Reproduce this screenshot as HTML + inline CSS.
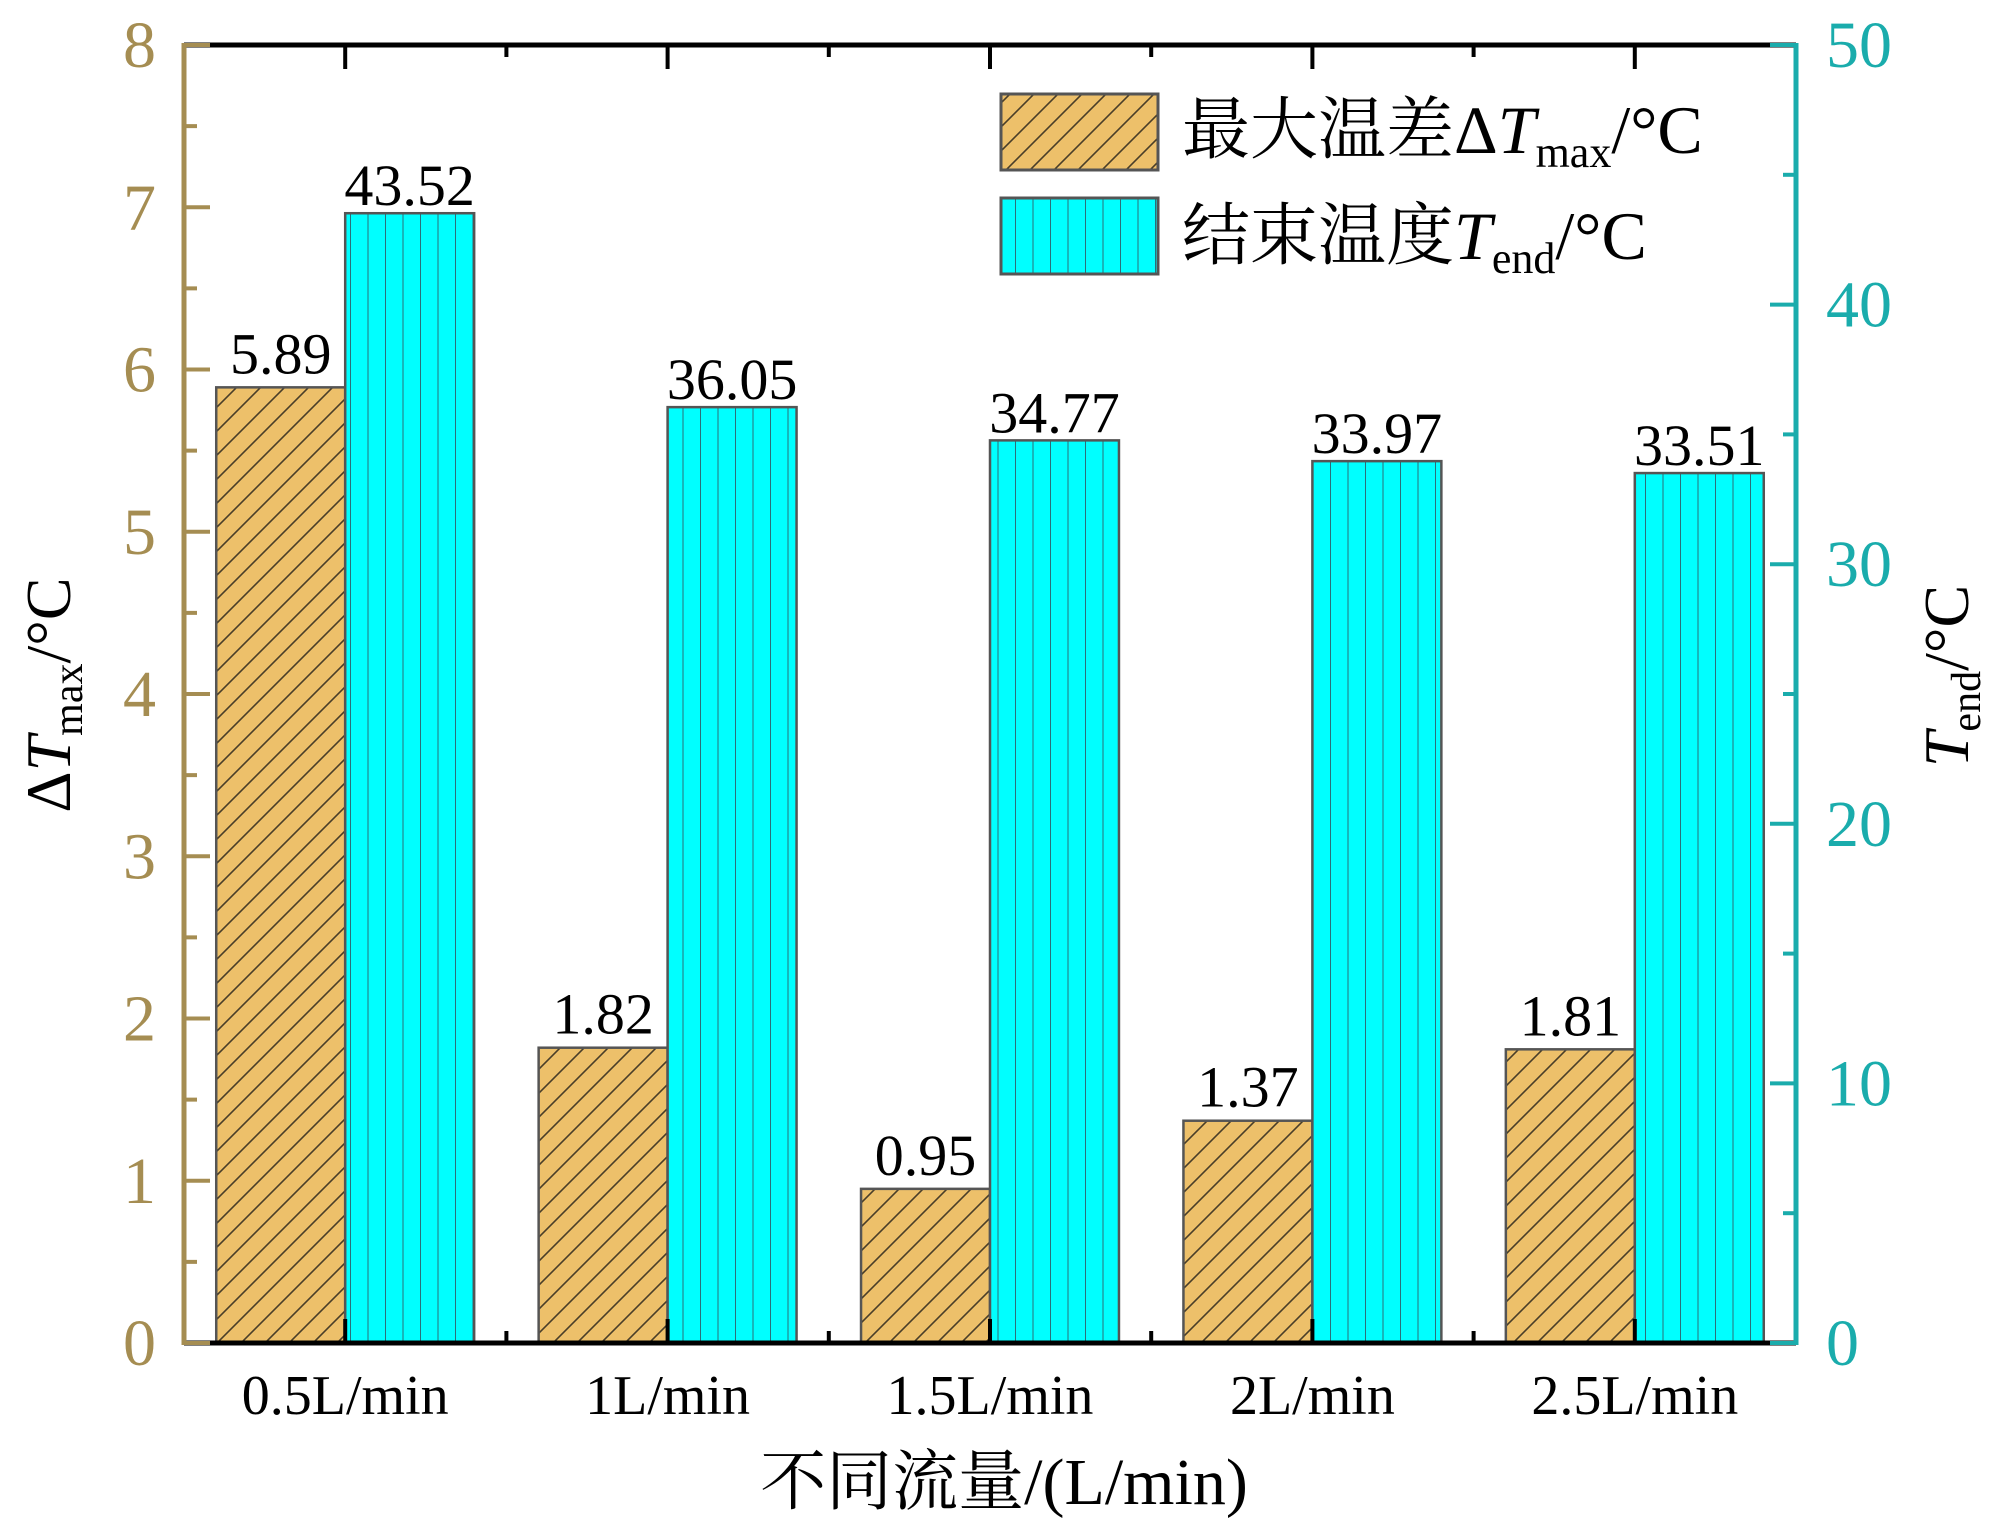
<!DOCTYPE html>
<html><head><meta charset="utf-8"><style>
html,body{margin:0;padding:0;background:#fff;}
svg{display:block;font-family:"Liberation Serif","Noto Serif CJK SC",serif;}
</style></head><body>
<svg id="chart" width="2000" height="1526" viewBox="0 0 2000 1526" xmlns="http://www.w3.org/2000/svg">
<defs>
<pattern id="hatchDiag" patternUnits="userSpaceOnUse" width="24" height="24">
<rect width="24" height="24" fill="#EDC06A"/>
<path d="M0,24 L24,0 M-6,6 L6,-6 M18,30 L30,18" stroke="#4a3e28" stroke-width="1.6"/>
</pattern>
<pattern id="hatchVert" patternUnits="userSpaceOnUse" width="17.5" height="20">
<rect width="17.5" height="20" fill="#00FFFF"/>
<path d="M0,0 L0,20" stroke="#2b6f7a" stroke-width="2"/>
</pattern>
</defs>
<g id="plot"></g>
</svg>
<script>
const categories = ["0.5L/min","1L/min","1.5L/min","2L/min","2.5L/min"];
const dTmax = [5.89,1.82,0.95,1.37,1.81];
const Tend = [43.52,36.05,34.77,33.97,33.51];
const leftTicks = [0,1,2,3,4,5,6,7,8];
const rightTicks = [0,10,20,30,40,50];

const NS="http://www.w3.org/2000/svg";
const g=document.getElementById('plot');
const X0=184,X1=1796,Y0=1343,Y1=45;
const GOLD="#A58D52",TEAL="#1AACAC";
const step=(X1-X0)/categories.length;
const xc=i=>X0+(i+0.5)*step;
const yL=v=>Y0-(v/8)*(Y0-Y1);
const yR=v=>Y0-(v/50)*(Y0-Y1);
const bw=step*0.4;
function el(tag,attrs,parent){const e=document.createElementNS(NS,tag);for(const k in attrs)e.setAttribute(k,attrs[k]);(parent||g).appendChild(e);return e;}

categories.forEach((c,i)=>{
  const yg=yL(dTmax[i]);
  const b1=el('rect',{x:xc(i)-bw,y:yg,width:bw,height:Y0-yg,fill:'url(#hatchDiag)',stroke:'#555',"stroke-width":2.5});
  
  
  const yc=yR(Tend[i]);
  const b2=el('rect',{x:xc(i),y:yc,width:bw,height:Y0-yc,fill:'url(#hatchVert)',stroke:'#555',"stroke-width":2.5});
  
  
  const t1=el('text',{x:xc(i)-bw/2,y:yg-14,"text-anchor":"middle","font-size":58,fill:"#000"});
  t1.textContent=dTmax[i].toFixed(2);
  
  
  const t2=el('text',{x:xc(i)+bw/2,y:yc-8,"text-anchor":"middle","font-size":58,fill:"#000"});
  t2.textContent=Tend[i].toFixed(2);
  
  
  const cl=el('text',{x:xc(i),y:1414,"text-anchor":"middle","font-size":56,fill:"#000"});
  cl.textContent=c;
  
  
});

const ax=el('line',{x1:X0,y1:Y0,x2:X1,y2:Y0,stroke:'#000',"stroke-width":5});


const tx=el('line',{x1:X0,y1:Y1,x2:X1,y2:Y1,stroke:'#000',"stroke-width":5});


categories.forEach((c,i)=>{
  el('line',{x1:xc(i),y1:Y0,x2:xc(i),y2:Y0-24,stroke:'#000',"stroke-width":4});
  el('line',{x1:xc(i),y1:Y1,x2:xc(i),y2:Y1+24,stroke:'#000',"stroke-width":4});
  if(i>0){
    const xb=X0+i*step;
    el('line',{x1:xb,y1:Y0,x2:xb,y2:Y0-12,stroke:'#000',"stroke-width":4});
    el('line',{x1:xb,y1:Y1,x2:xb,y2:Y1+12,stroke:'#000',"stroke-width":4});
  }
});

const la=el('line',{x1:X0,y1:Y0+2,x2:X0,y2:Y1-2,stroke:GOLD,"stroke-width":5});


leftTicks.forEach(v=>{
  el('line',{x1:X0,y1:yL(v),x2:X0+26,y2:yL(v),stroke:GOLD,"stroke-width":4});
  if(v<8) el('line',{x1:X0,y1:yL(v+0.5),x2:X0+13,y2:yL(v+0.5),stroke:GOLD,"stroke-width":4});
  const t=el('text',{x:156,y:yL(v)+22,"text-anchor":"end","font-size":66,fill:GOLD});
  t.textContent=v;
  
  
});
const ra=el('line',{x1:X1,y1:Y0+2,x2:X1,y2:Y1-2,stroke:TEAL,"stroke-width":5});


rightTicks.forEach(v=>{
  el('line',{x1:X1,y1:yR(v),x2:X1-26,y2:yR(v),stroke:TEAL,"stroke-width":4});
  if(v<50) el('line',{x1:X1,y1:yR(v+5),x2:X1-13,y2:yR(v+5),stroke:TEAL,"stroke-width":4});
  const t=el('text',{x:1826,y:yR(v)+22,"text-anchor":"start","font-size":66,fill:TEAL});
  t.textContent=v;
  
  
});
</script>
<svg style="position:absolute;left:0;top:0" width="2000" height="1526" viewBox="0 0 2000 1526" xmlns="http://www.w3.org/2000/svg" font-family="Liberation Serif, Noto Serif CJK SC, serif">
<text transform="translate(70,695) rotate(-90)" text-anchor="middle" font-size="64" fill="#000">Δ<tspan font-style="italic">T</tspan><tspan font-size="42" dy="12">max</tspan><tspan dy="-12">/°C</tspan></text>
<text transform="translate(1968,676) rotate(-90)" text-anchor="middle" font-size="64" fill="#000"><tspan font-style="italic">T</tspan><tspan font-size="42" dy="12">end</tspan><tspan dy="-12">/°C</tspan></text>
<text x="1004" y="1504" text-anchor="middle" font-size="66" fill="#000">不同流量/(L/min)</text>
<g>
<rect x="1001" y="94" width="157" height="76" fill="url(#hatchDiag)" stroke="#555" stroke-width="3"/>
<text x="1182" y="153" font-size="68" fill="#000">最大温差Δ<tspan font-style="italic">T</tspan><tspan font-size="44" dy="14">max</tspan><tspan dy="-14">/°C</tspan></text>
<rect x="1001" y="198" width="157" height="76" fill="url(#hatchVert)" stroke="#555" stroke-width="3"/>
<text x="1182" y="259" font-size="68" fill="#000">结束温度<tspan font-style="italic">T</tspan><tspan font-size="44" dy="14">end</tspan><tspan dy="-14">/°C</tspan></text>
</g>
</svg>
</body></html>
